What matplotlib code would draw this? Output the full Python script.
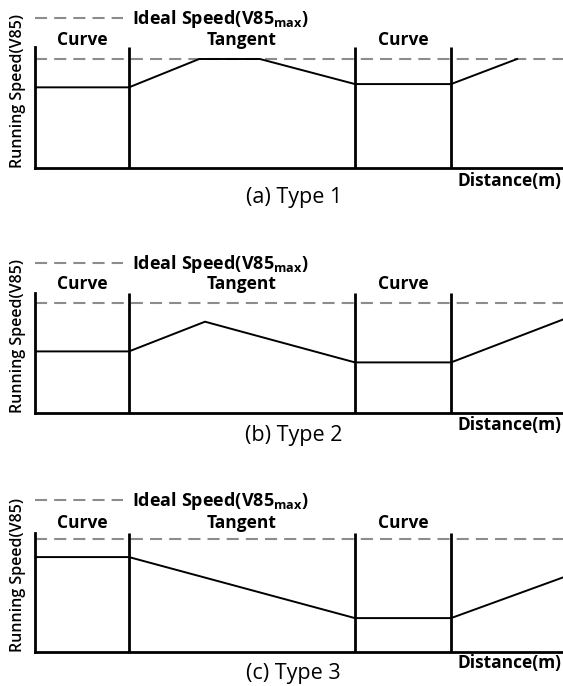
import matplotlib
matplotlib.use('Agg')
import matplotlib.pyplot as plt
from matplotlib.lines import Line2D

plt.rcParams['font.family'] = ['Open Sans', 'DejaVu Sans']
plt.rcParams['mathtext.fontset'] = 'custom'
plt.rcParams['mathtext.rm'] = 'Open Sans'
plt.rcParams['mathtext.bf'] = 'Open Sans:bold'

# section boundaries along distance (0-100), same for all three types
bounds = [0, 17.8, 60.6, 78.8, 100]
sections = ['Curve', 'Tangent', 'Curve']
ideal = 100

# running speed profiles, ideal speed = 100
type1_x = [0, 17.8, 31.1, 42.6, 60.6, 78.8, 91.3]
type1_v = [74, 74, 100, 100, 77, 77, 100]
type2_x = [0, 17.8, 32.2, 60.6, 78.8, 100]
type2_v = [56, 56, 83, 46, 46, 85]
type3_x = [0, 17.8, 60.6, 78.8, 100]
type3_v = [84, 84, 30, 30, 66]

profiles = [(type1_x, type1_v), (type2_x, type2_v), (type3_x, type3_v)]
captions = ['(a) Type 1', '(b) Type 2', '(c) Type 3']

# layout in pixels of the 563x686 picture
W, H = 563, 686
left = 35
tops = [47, 293, 533]
bottoms = [168, 413, 652]
dash_px = [59, 303, 539]
legend_px = [19, 264, 501]
label_px = [40, 284, 523]
dist_px = [181, 425, 663]
cap_px = [197, 435, 673]

pt = 0.72  # points per pixel at dpi 100
grey = '#8c8c8c'

fig = plt.figure(figsize=(W / 100, H / 100), dpi=100)

for i, (xs, vs) in enumerate(profiles):
    top, bot = tops[i], bottoms[i]
    h = bot - top
    ax = fig.add_axes([left / W, 1 - bot / H, (W - left) / W, h / H])
    ytop = ideal * h / (bot - dash_px[i])
    ax.set_xlim(bounds[0], bounds[-1])
    ax.set_ylim(0, ytop)
    ax.set_xticks([])
    ax.set_yticks([])
    for s in ['top', 'right']:
        ax.spines[s].set_visible(False)
    for s in ['left', 'bottom']:
        ax.spines[s].set_linewidth(2)

    ax.axhline(ideal, color=grey, lw=1.5, dashes=(5.8, 3.4))
    ax.vlines(bounds[1:4], 0, ytop, color='black', lw=2)
    ax.plot(xs, vs, color='black', lw=1.4, solid_joinstyle='miter')

    # section names centred over each segment
    for j, name in enumerate(sections):
        mid = (bounds[j] + bounds[j + 1]) / 2
        ax.annotate(name, xy=(mid, 1), xycoords=ax.get_xaxis_transform(),
                    xytext=(0, (top - label_px[i]) * pt), textcoords='offset points',
                    ha='center', va='center', fontsize=12.5, fontweight='bold')

    ax.legend([Line2D([], [], color=grey, lw=1.5, dashes=(5.8, 3.4))],
              [r'Ideal Speed(V85$_{\mathbf{max}}$)'],
              loc='center left', bbox_to_anchor=(0, 1 + (top - legend_px[i]) / h),
              frameon=False, handlelength=4.9, handletextpad=0.5,
              borderpad=0, borderaxespad=0,
              prop={'weight': 'bold', 'size': 13})

    ax.annotate('Running Speed(V85)', xy=(0, 0), xycoords='axes fraction',
                xytext=(-17 * pt, 0), textcoords='offset points',
                rotation=90, ha='center', va='bottom', fontsize=11.5,
                fontweight='semibold')
    ax.annotate('Distance(m)', xy=(1, 0), xycoords='axes fraction',
                xytext=(-1, -(dist_px[i] - bot) * pt), textcoords='offset points',
                ha='right', va='center', fontsize=12.5, fontweight='bold')
    ax.annotate(captions[i], xy=(0.49, 0), xycoords='axes fraction',
                xytext=(0, -(cap_px[i] - bot) * pt), textcoords='offset points',
                ha='center', va='center', fontsize=15.5)

fig.savefig('out.png', dpi=100)
